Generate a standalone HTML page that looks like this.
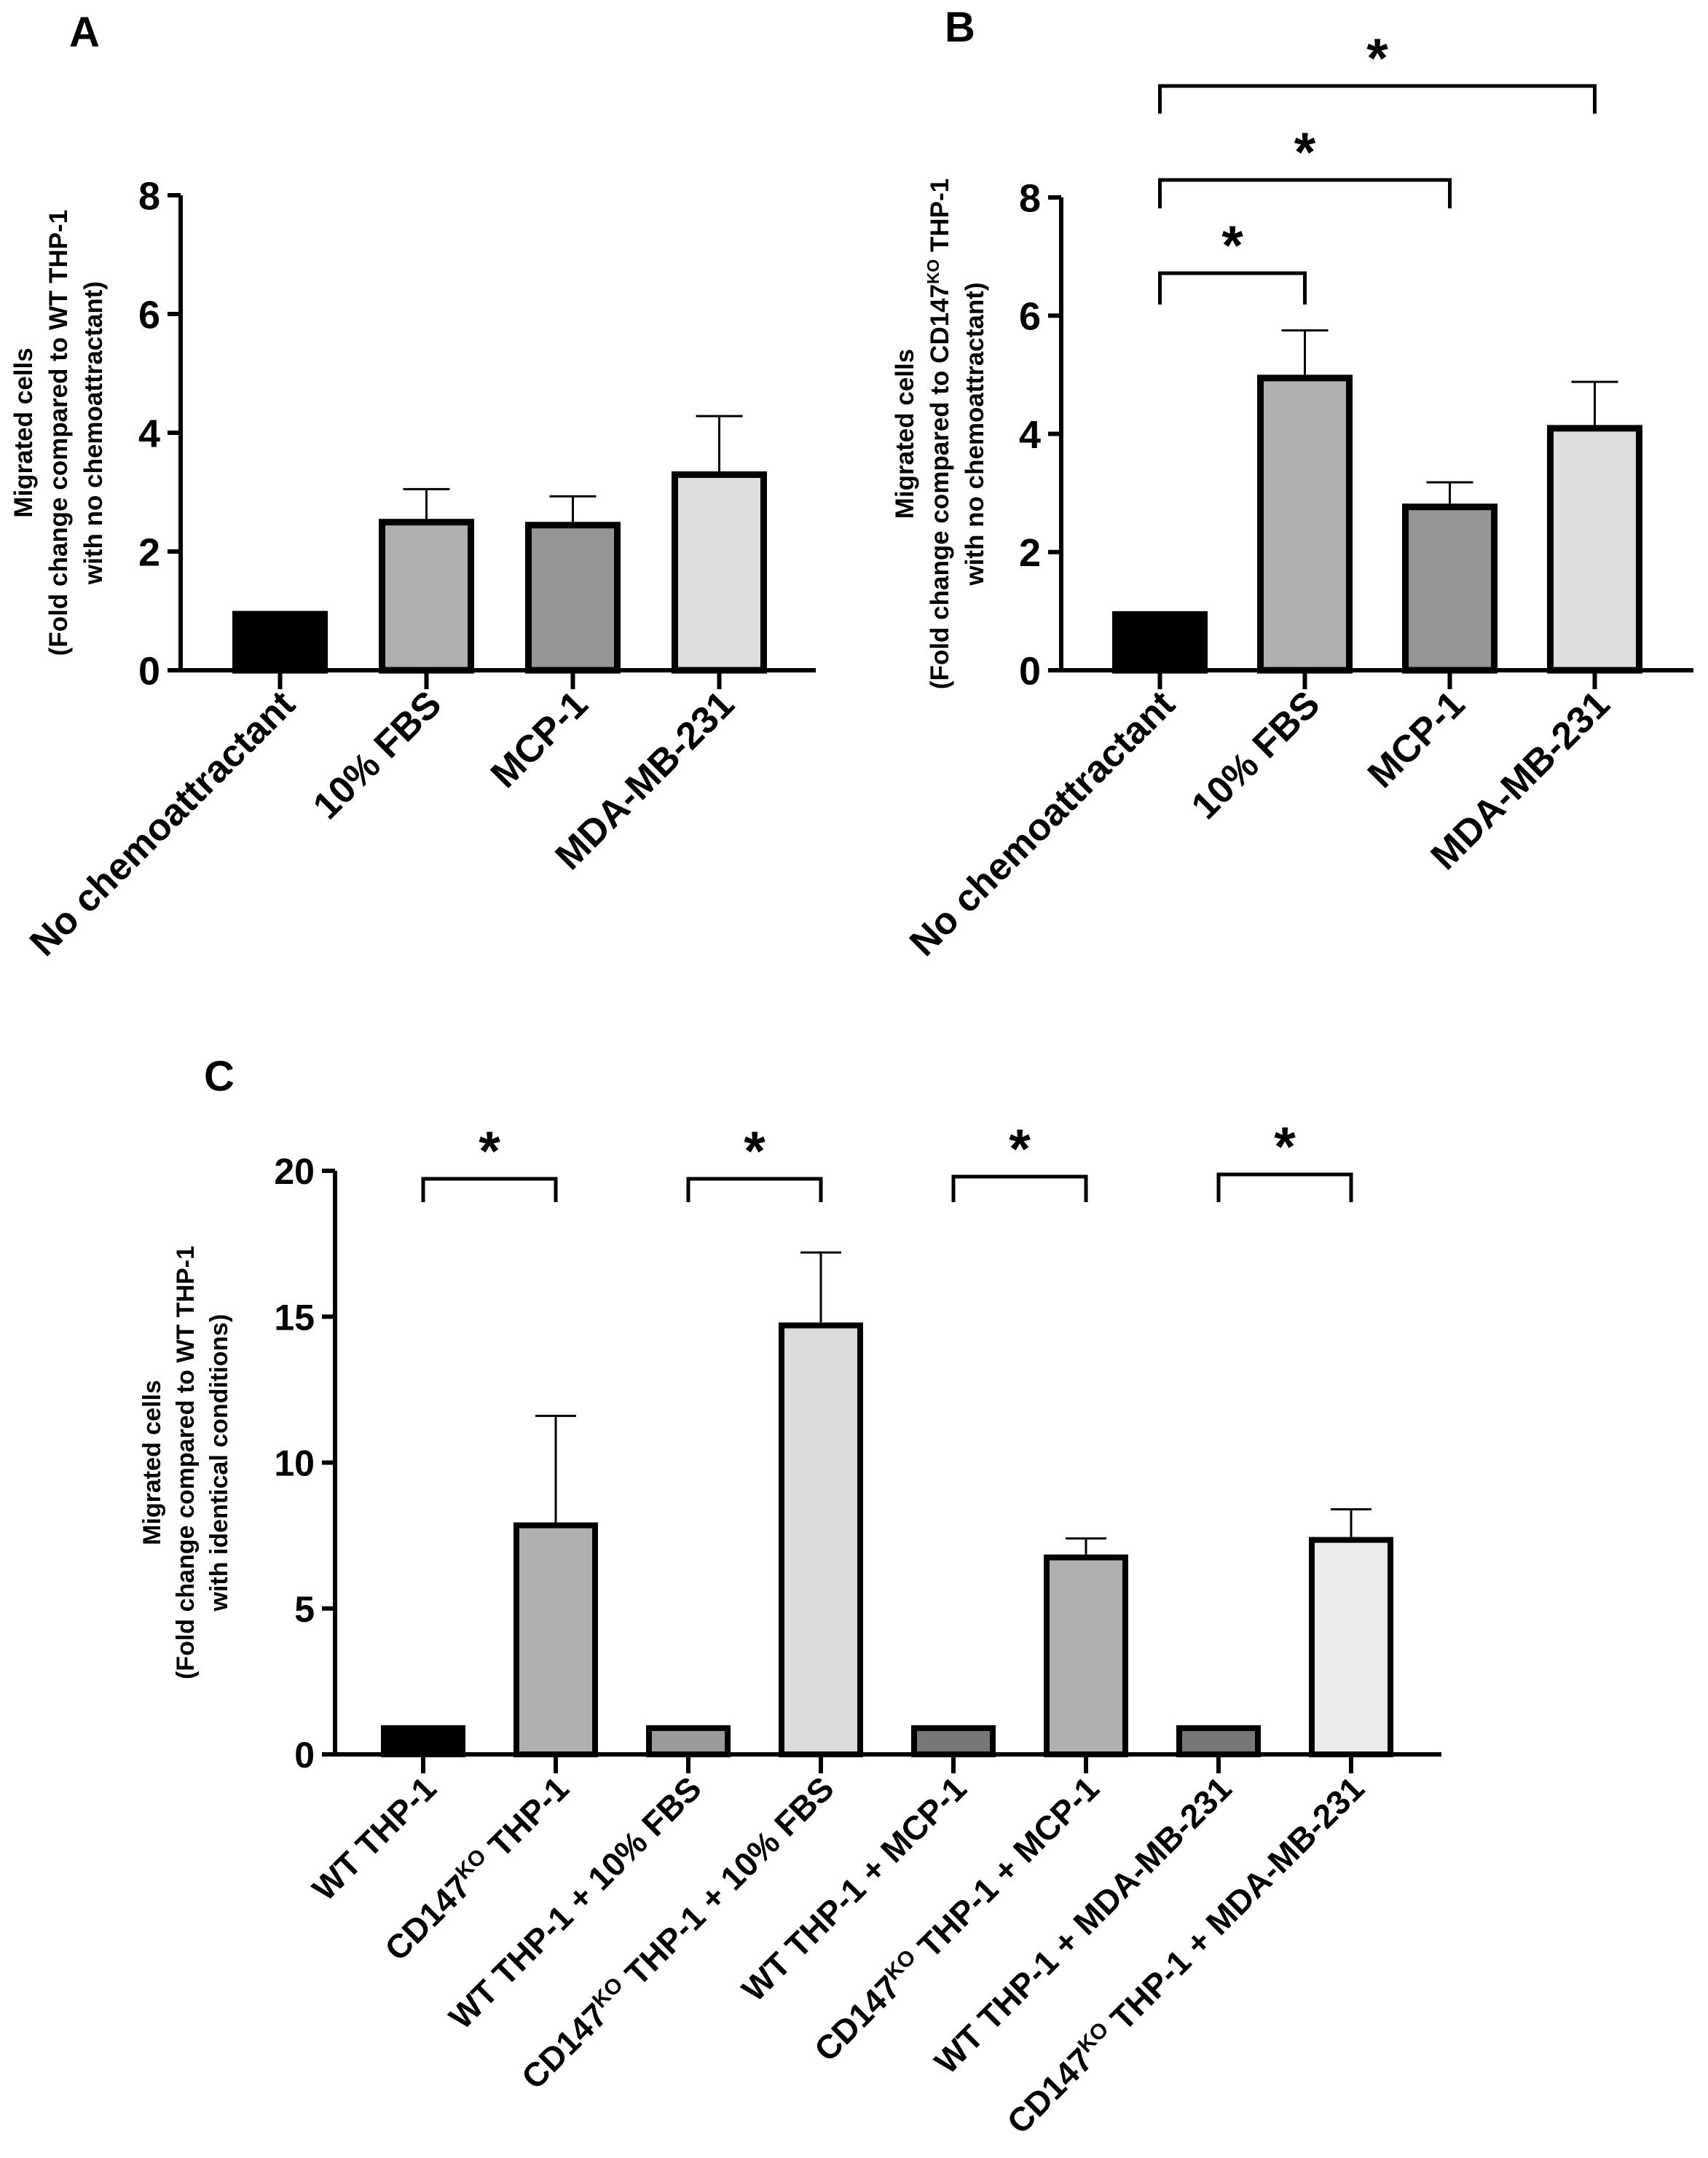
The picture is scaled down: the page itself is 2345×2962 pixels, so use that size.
<!DOCTYPE html>
<html><head><meta charset="utf-8"><style>
html,body{margin:0;padding:0;background:#fff;}
svg{display:block;font-family:"Liberation Sans",Arial,sans-serif;}
</style></head><body>
<svg id="fig" width="2345" height="2962" viewBox="0 0 2345 2962" xmlns="http://www.w3.org/2000/svg">
<text x="95" y="64" font-size="58" font-weight="bold">A</text>
<text x="1297" y="57" font-size="58" font-weight="bold">B</text>
<text x="280" y="1497" font-size="58" font-weight="bold">C</text>
</svg>
<script>
const catsA = ["No chemoattractant","10% FBS","MCP-1","MDA-MB-231"];
const valsA = [1.0, 2.55, 2.5, 3.35];
const errA = [null, 3.05, 2.93, 4.28];
const colorsA = ["#000","#b0b0b0","#959595","#dedede"];
const ticksA = [0,2,4,6,8];

const catsB = ["No chemoattractant","10% FBS","MCP-1","MDA-MB-231"];
const valsB = [1.0, 5.0, 2.82, 4.15];
const errB = [null, 5.75, 3.18, 4.88];
const colorsB = ["#000","#b0b0b0","#959595","#dedede"];
const ticksB = [0,2,4,6,8];
const sigB = [[0,1],[0,2],[0,3]];

const catsC = ["WT THP-1","CD147|KO| THP-1","WT THP-1 + 10% FBS","CD147|KO| THP-1 + 10% FBS","WT THP-1 + MCP-1","CD147|KO| THP-1 + MCP-1","WT THP-1 + MDA-MB-231","CD147|KO| THP-1 + MDA-MB-231"];
const valsC = [1, 7.95, 1, 14.8, 1, 6.85, 1, 7.45];
const errC = [null, 11.6, null, 17.2, null, 7.4, null, 8.4];
const colorsC = ["#000","#b0b0b0","#9a9a9a","#dcdcdc","#777","#b0b0b0","#777","#ececec"];
const ticksC = [0,5,10,15,20];
const sigC = [[0,1],[2,3],[4,5],[6,7]];

const NS="http://www.w3.org/2000/svg";
const svg=document.getElementById('fig');
function mk(tag,attrs,parent){const e=document.createElementNS(NS,tag);for(const k in attrs)e.setAttribute(k,attrs[k]);(parent||svg).appendChild(e);return e;}

function chart(o){
  const g=mk('g',{});
  
  
  const ymax=o.ticks[o.ticks.length-1];
  const y=v=>o.y0-(o.y0-o.yTop)*v/ymax;
  const x=i=>o.x0+o.step*(i+0.5)+o.off;
  o.vals.forEach((v,i)=>{
    const hw=o.bw/2;
    const r=mk('rect',{x:x(i)-hw+o.sw/2,y:y(v)+o.sw/2,width:o.bw-o.sw,height:Math.max(0,o.y0-y(v)-o.sw/2),fill:o.colors[i],stroke:'#000','stroke-width':o.sw},g);
    
    
    if(o.err[i]!=null){
      const l=mk('path',{d:`M${x(i)} ${y(v)} V${y(o.err[i])} M${x(i)-o.capw} ${y(o.err[i])} H${x(i)+o.capw}`,stroke:'#000','stroke-width':3,fill:'none'},g);
      
      
    }
  });
  const ax=mk('path',{d:`M${o.x0} ${o.yTop} V${o.y0} H${o.xEnd}`,stroke:'#000','stroke-width':6,fill:'none'},g);
  
  
  o.ticks.forEach(t=>{
    mk('line',{x1:o.x0-18,x2:o.x0,y1:y(t),y2:y(t),stroke:'#000','stroke-width':6},g);
    const tx=mk('text',{x:o.x0-28,y:y(t)+o.tfs*0.36,'font-size':o.tfs,'font-weight':'bold','text-anchor':'end','font-family':o.tfam||'"Liberation Sans",sans-serif'},g);
    tx.textContent=t;
    
    
  });
  o.cats.forEach((c,i)=>{
    mk('line',{x1:x(i),x2:x(i),y1:o.y0,y2:o.y0+26,stroke:'#000','stroke-width':6},g);
    const tx=mk('text',{'font-size':o.cfs,'font-weight':'bold','text-anchor':'end',transform:`translate(${x(i)+o.cfs*0.45},${o.y0+50}) rotate(-45)`},g);
    
    
    c.split('|').forEach((p,k)=>{
      const s=mk('tspan',{},tx);
      if(k===1){s.setAttribute('baseline-shift','super');s.setAttribute('font-size',o.cfs*0.65);}
      s.textContent=p;
    });
  });
  const yt=mk('text',{'font-size':o.yfs,'font-weight':'bold','text-anchor':'middle',transform:`translate(${o.ytx},${(o.yTop+o.y0)/2}) rotate(-90)`},g);
  
  
  o.ytitle.forEach((line,k)=>{
    const s=mk('tspan',{x:0,dy:k===0?0:o.ylh},yt);
    line.split('|').forEach((p,j)=>{const q=mk('tspan',{},s);if(j===1){q.setAttribute('baseline-shift','super');q.setAttribute('font-size',o.yfs*0.65);}q.textContent=p;});
  });
  (o.sig||[]).forEach((p,k)=>{
    const top=o.sigY[k], bot=o.sigBot[k];
    const b=mk('path',{d:`M${x(p[0])} ${bot} V${top} H${x(p[1])} V${bot}`,stroke:'#000','stroke-width':5,fill:'none'},g);
    
    
    const st=mk('text',{x:(x(p[0])+x(p[1]))/2,y:top-12,'font-size':o.starfs,'font-weight':'bold','text-anchor':'middle'},g);
    st.textContent='*';
    
    
  });
}

chart({name:'panel-a-chart',cats:catsA,vals:valsA,err:errA,colors:colorsA,ticks:ticksA,
  x0:248,xEnd:1120,y0:920,yTop:268,step:201,off:36,bw:131,sw:9,capw:32,tfs:54,cfs:52,yfs:35,ylh:48,ytx:44,
  ytitle:["Migrated cells","(Fold change compared to WT THP-1","with no chemoattractant)"]});
chart({name:'panel-b-chart',cats:catsB,vals:valsB,err:errB,colors:colorsB,ticks:ticksB,
  x0:1457,xEnd:2325,y0:920,yTop:271,step:199,off:36,bw:131,sw:9,capw:32,tfs:54,cfs:52,yfs:35,ylh:48,ytx:1254,
  ytitle:["Migrated cells","(Fold change compared to CD147|KO| THP-1","with no chemoattractant)"],
  sig:sigB,sigY:[375,247,118],sigBot:[418,286,156],starfs:76});
chart({name:'panel-c-chart',cats:catsC,vals:valsC,err:errC,colors:colorsC,ticks:ticksC,
  x0:460,xEnd:1979,y0:2408,yTop:1607,step:182,off:30,bw:116,sw:8,capw:28,tfs:50,cfs:46,yfs:34,ylh:46,ytx:220,tfam:'"Liberation Sans Narrow","Liberation Sans",sans-serif',
  ytitle:["Migrated cells","(Fold change compared to WT THP-1","with identical conditions)"],
  sig:sigC,sigY:[1618,1618,1615,1612],sigBot:[1650,1650,1650,1650],starfs:76});
</script>
</body></html>
